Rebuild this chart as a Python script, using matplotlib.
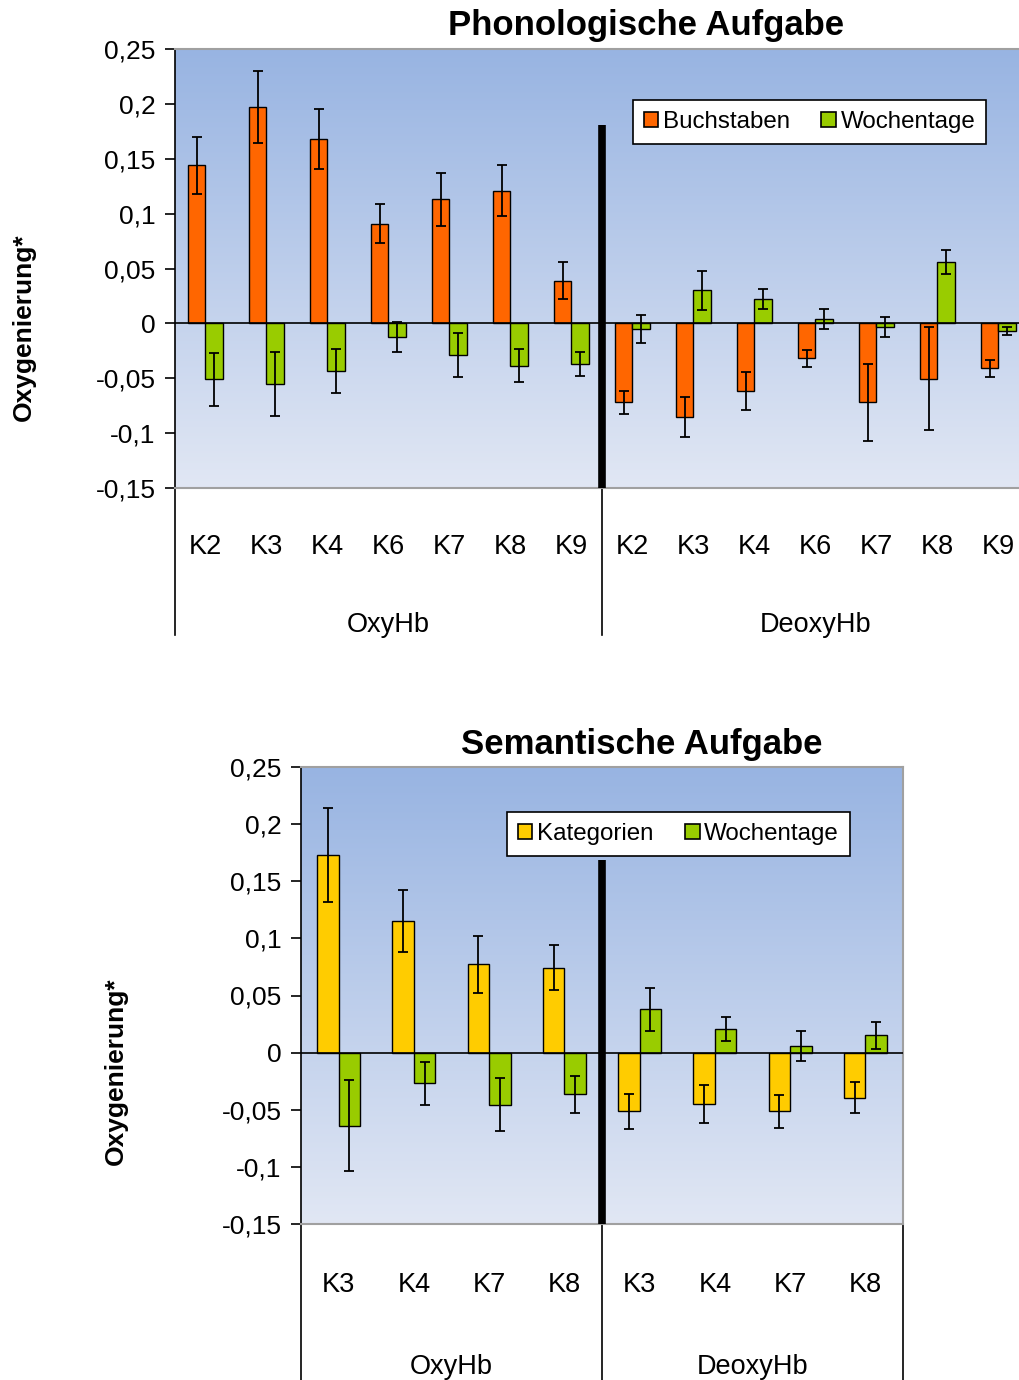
import matplotlib
matplotlib.use('Agg')
import matplotlib.pyplot as plt
import matplotlib.patches as mpatches
import matplotlib.transforms as mtransforms
import numpy as np

plt.rcParams['font.family'] = ['Liberation Sans', 'DejaVu Sans']

# ---- Phonologische Aufgabe ----
phon_cats = ['K2', 'K3', 'K4', 'K6', 'K7', 'K8', 'K9']
phon_groups = ['OxyHb', 'DeoxyHb']
phon_series = ['Buchstaben', 'Wochentage']
phon_oxy_buch = [0.144, 0.197, 0.168, 0.091, 0.113, 0.121, 0.039]
phon_oxy_buch_err = [0.026, 0.033, 0.027, 0.018, 0.024, 0.023, 0.017]
phon_oxy_woch = [-0.051, -0.055, -0.043, -0.0125, -0.029, -0.0385, -0.037]
phon_oxy_woch_err = [0.024, 0.029, 0.020, 0.014, 0.020, 0.015, 0.0105]
phon_deoxy_buch = [-0.072, -0.0855, -0.0615, -0.032, -0.072, -0.0505, -0.041]
phon_deoxy_buch_err = [0.0105, 0.018, 0.017, 0.0076, 0.035, 0.047, 0.0076]
phon_deoxy_woch = [-0.005, 0.030, 0.022, 0.004, -0.0035, 0.0557, -0.0067]
phon_deoxy_woch_err = [0.013, 0.018, 0.009, 0.009, 0.009, 0.011, 0.0038]

# ---- Semantische Aufgabe ----
sem_cats = ['K3', 'K4', 'K7', 'K8']
sem_groups = ['OxyHb', 'DeoxyHb']
sem_series = ['Kategorien', 'Wochentage']
sem_oxy_kat = [0.173, 0.1155, 0.0775, 0.0745]
sem_oxy_kat_err = [0.041, 0.027, 0.025, 0.020]
sem_oxy_woch = [-0.064, -0.027, -0.0455, -0.0365]
sem_oxy_woch_err = [0.040, 0.019, 0.023, 0.016]
sem_deoxy_kat = [-0.0515, -0.045, -0.0515, -0.0395]
sem_deoxy_kat_err = [0.015, 0.017, 0.0145, 0.0135]
sem_deoxy_woch = [0.038, 0.021, 0.006, 0.015]
sem_deoxy_woch_err = [0.019, 0.0105, 0.013, 0.012]

y_ticks = [-0.15, -0.1, -0.05, 0, 0.05, 0.1, 0.15, 0.2, 0.25]

ORANGE = '#FF6600'
GREEN = '#99CC00'
YELLOW = '#FFCC00'

W, H = 1020, 1380


def comma_fmt(v):
    return ('%g' % v).replace('.', ',')


def draw_panel(ax, cats, groups, series, v1, e1, v2, e2, colors,
               sep_top, cut_frac, legend_anchor):
    ncat = len(cats) * len(groups)
    x = np.arange(ncat)
    w = 0.2857
    ymin, ymax = y_ticks[0], y_ticks[-1]

    # gradient plot area
    grad = np.linspace(0, 1, 256)[:, None, None]
    top = np.array([152, 180, 226]) / 255
    bot = np.array([225, 231, 244]) / 255
    img = top * (1 - grad) + bot * grad
    img = np.repeat(img, 2, axis=1)
    ax.imshow(img, extent=[-0.5, ncat - 0.5, ymin, ymax], aspect='auto',
              origin='upper', zorder=0)

    ax.bar(x - w / 2, v1, w, color=colors[0], edgecolor='black', linewidth=1,
           zorder=2)
    ax.bar(x + w / 2, v2, w, color=colors[1], edgecolor='black', linewidth=1,
           zorder=2)
    ax.errorbar(x - w / 2, v1, yerr=e1, fmt='none', ecolor='black',
                elinewidth=1.3, capsize=3.5, capthick=1.3, zorder=4)
    ax.errorbar(x + w / 2, v2, yerr=e2, fmt='none', ecolor='black',
                elinewidth=1.3, capsize=3.5, capthick=1.3, zorder=4)

    ax.axhline(0, color='black', linewidth=1.2, zorder=3)
    ax.plot([len(cats) - 0.5] * 2, [ymin, sep_top], color='black', lw=5.5,
            solid_capstyle='butt', zorder=5)

    ax.set_xlim(-0.5, ncat - 0.5)
    ax.set_ylim(ymin, ymax)
    ax.set_xticks([])
    ax.set_yticks(y_ticks)
    ax.set_yticklabels([comma_fmt(v) for v in y_ticks])
    ax.tick_params(axis='y', direction='out', length=7, width=1.2,
                   labelsize=19, pad=7, colors='black')

    for s in ['top', 'right', 'bottom']:
        ax.spines[s].set_color('#A0A0A0')
        ax.spines[s].set_linewidth(1.5)
    ax.spines['left'].set_color('black')
    ax.spines['left'].set_linewidth(1.2)

    # multi-level category axis
    trans = mtransforms.blended_transform_factory(ax.transData, ax.transAxes)
    for xb in [-0.5, len(cats) - 0.5, ncat - 0.5]:
        ax.plot([xb, xb], [0, -cut_frac], transform=trans, color='black',
                lw=1.2, clip_on=False)
    all_cats = cats * len(groups)
    for i, c in enumerate(all_cats):
        ax.text(i, -0.134, c, transform=trans, ha='center', va='center',
                fontsize=19.5)
    for g, name in enumerate(groups):
        cx = g * len(cats) + (len(cats) - 1) / 2
        ax.text(cx, -0.312, name, transform=trans, ha='center', va='center',
                fontsize=19.5)

    handles = [mpatches.Patch(facecolor=colors[k], edgecolor='black',
                              linewidth=1.2, label=series[k]) for k in range(2)]
    leg = ax.legend(handles=handles, loc='upper left',
                    bbox_to_anchor=legend_anchor, ncol=2, fontsize=17.4,
                    frameon=True, fancybox=False, framealpha=1,
                    edgecolor='black', handlelength=0.6, handleheight=0.6,
                    handletextpad=0.2, columnspacing=1.3, borderpad=0.45,
                    borderaxespad=0)
    leg.get_frame().set_linewidth(1.2)
    leg.set_zorder(6)


fig = plt.figure(figsize=(W / 100, H / 100), dpi=100, facecolor='white')

# top panel: plot area x 175..1029, y 49..488
ax1 = fig.add_axes([175 / W, 1 - 488 / H, (1029 - 175) / W, (488 - 49) / H])
draw_panel(ax1, phon_cats, phon_groups, phon_series,
           phon_oxy_buch + phon_deoxy_buch, phon_oxy_buch_err + phon_deoxy_buch_err,
           phon_oxy_woch + phon_deoxy_woch, phon_oxy_woch_err + phon_deoxy_woch_err,
           [ORANGE, GREEN], 0.181, (635 - 488) / (488 - 49), (0.536, 0.884))

# bottom panel: plot area x 301..903, y 767..1224
ax2 = fig.add_axes([301 / W, 1 - 1224 / H, (903 - 301) / W, (1224 - 767) / H])
draw_panel(ax2, sem_cats, sem_groups, sem_series,
           sem_oxy_kat + sem_deoxy_kat, sem_oxy_kat_err + sem_deoxy_kat_err,
           sem_oxy_woch + sem_deoxy_woch, sem_oxy_woch_err + sem_deoxy_woch_err,
           [YELLOW, GREEN], 0.169, (1380 - 1224) / (1224 - 767), (0.342, 0.9015))

fig.text(646 / W, 1 - 26 / H, 'Phonologische Aufgabe', ha='center',
         va='center', fontsize=25, fontweight='bold')
fig.text(642 / W, 1 - 745 / H, 'Semantische Aufgabe', ha='center',
         va='center', fontsize=25, fontweight='bold')
fig.text(24 / W, 1 - 327 / H, 'Oxygenierung*', rotation=90, ha='center',
         va='center', fontsize=19, fontweight='bold')
fig.text(116 / W, 1 - 1071 / H, 'Oxygenierung*', rotation=90, ha='center',
         va='center', fontsize=19, fontweight='bold')

fig.savefig('out.png', dpi=100, facecolor='white')
